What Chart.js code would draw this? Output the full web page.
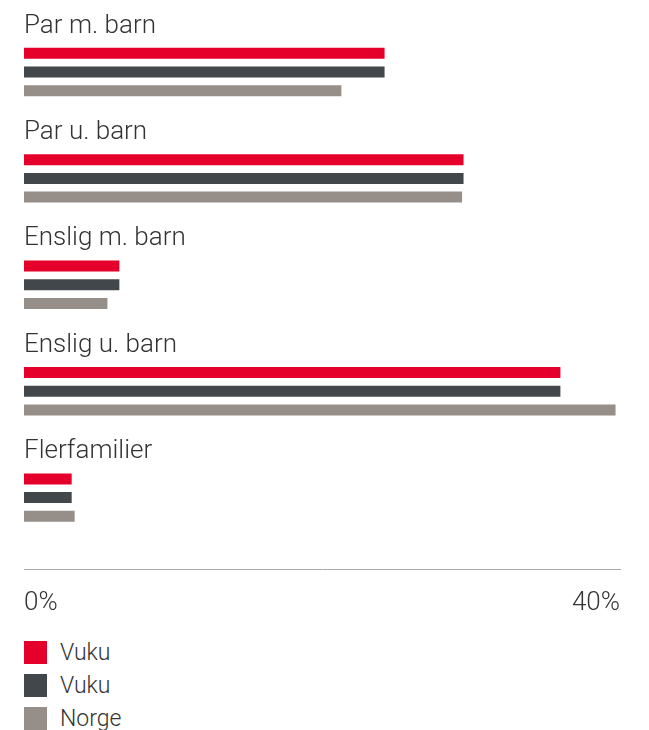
<!DOCTYPE html>
<html lang="no">
  <head>
    <meta charset="utf-8">
    <title>Husholdningstyper</title>
    <script src="https://cdn.jsdelivr.net/npm/chart.js@4/dist/chart.umd.min.js"></script>
    <style>
      body { margin: 0; background: #fff; font-family: Roboto, sans-serif; }
      #wrap { position: relative; width: 649px; height: 730px; }
      #legend { position: absolute; left: 24px; top: 641px; }
      .item { display: flex; align-items: center; height: 23px; margin-bottom: 10px; }
      .box { width: 23px; height: 23px; margin-right: 13px; }
      .item span { font-size: 23px; font-weight: 300; color: #333; }
    </style>
  </head>
  <body>
    <div id="wrap">
      <canvas id="chart" width="649" height="635"></canvas>
      <div id="legend"></div>
    </div>
    <script>
      const categories = ['Par m. barn', 'Par u. barn', 'Enslig m. barn', 'Enslig u. barn', 'Flerfamilier'];
      const seriesNames = ['Vuku', 'Vuku', 'Norge'];
      const vukuRed = [24.2, 29.5, 6.4, 36.0, 3.2];
      const vukuDark = [24.2, 29.5, 6.4, 36.0, 3.2];
      const norge = [21.3, 29.4, 5.6, 39.7, 3.4];
      const tickValues = [0, 40];

      const colors = ['#e4002b', '#41474a', '#968e88'];
      const values = [vukuRed, vukuDark, norge];

      Chart.defaults.font.family = 'Roboto';
      Chart.defaults.font.weight = '300';
      Chart.defaults.color = '#333';

      const ctx = document.getElementById('chart').getContext('2d');
      const chart = new Chart(ctx, {
        type: 'bar',
        data: {
          labels: categories,
          datasets: values.map((v, i) => ({
            label: seriesNames[i],
            data: v,
            backgroundColor: colors[i],
            borderWidth: 0,
            categoryPercentage: 0.527,
            barPercentage: 0.59
          }))
        },
        options: {
          indexAxis: 'y',
          responsive: false,
          animation: false,
          devicePixelRatio: 1,
          layout: { padding: { left: 24, right: 29, top: 18.8, bottom: 84.2 } },
          plugins: { legend: { display: false }, tooltip: { enabled: false } },
          scales: {
            y: {
              grid: { display: false, drawTicks: false },
              border: { display: false },
              ticks: {
                mirror: true,
                padding: 0,
                labelOffset: -46,
                font: { size: 26, weight: '300' },
                color: '#333'
              }
            },
            x: {
              min: 0,
              max: 40,
              position: { y: 4.672 },
              afterBuildTicks: s => { s.ticks = tickValues.map(v => ({ value: v })); },
              grid: { display: false, drawTicks: false },
              border: { display: true, color: '#aaa', width: 1 },
              ticks: {
                align: 'inner',
                padding: 19,
                font: { size: 26, weight: '300' },
                color: '#333',
                callback: v => v + '%'
              }
            }
          }
        }
      });

      // legend as html under the canvas
      const legend = document.getElementById('legend');
      chart.data.datasets.forEach(ds => {
        const item = document.createElement('div');
        item.className = 'item';
        item.innerHTML = '<div class="box" style="background:' + ds.backgroundColor + '"></div><span>' + ds.label + '</span>';
        legend.appendChild(item);
      });
    </script>
  </body>
</html>
